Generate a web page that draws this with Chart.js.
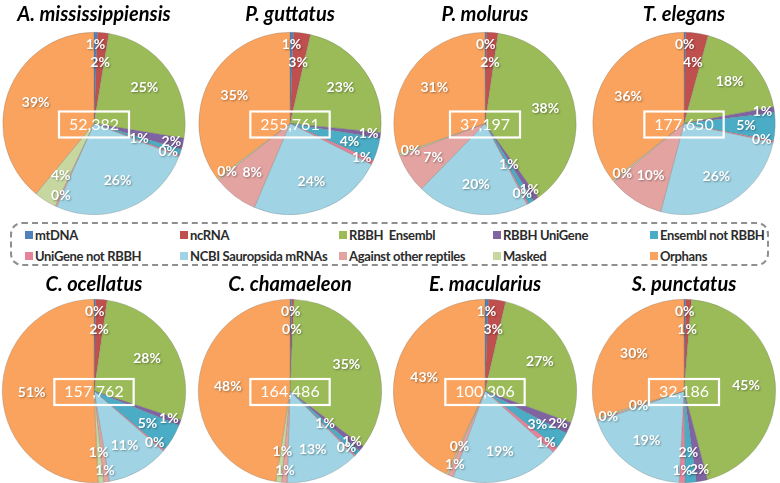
<!DOCTYPE html>
<html>
<head>
<meta charset="utf-8">
<script src="https://cdn.jsdelivr.net/npm/chart.js@4.4.1/dist/chart.umd.min.js"></script>
<style>
  html, body { margin: 0; padding: 0; background: #fff; }
  body { width: 780px; height: 483px; position: relative; overflow: hidden; font-family: Lato, "DejaVu Sans", sans-serif; }
  canvas { position: absolute; }
  #legend {
    position: absolute; left: 10px; top: 222px; width: 759px; height: 44px;
    box-sizing: border-box; border: 2px dashed #8f8f8f; border-radius: 12px;
  }
  .item { position: absolute; font-weight: bold; font-size: 13px; letter-spacing: -0.35px; color: #2b2b2b; white-space: pre; line-height: 16px; }
  .item i { display: inline-block; width: 8px; height: 8px; margin-right: 2px; vertical-align: 1px; }
</style>
</head>
<body>
<div id="legend"></div>

<script>
// percentage of transcripts per annotation class
const CATEGORIES = ["mtDNA", "ncRNA", "RBBH  Ensembl", "RBBH UniGene", "Ensembl not RBBH",
  "UniGene not RBBH", "NCBI Sauropsida mRNAs", "Against other reptiles", "Masked", "Orphans"];
const COLORS = ["#4f81bd", "#c0504d", "#9bbb59", "#8064a2", "#4bacc6",
  "#e6839a", "#a0d4e4", "#e3a3a1", "#c6d79f", "#f9a35e"];

const SPECIES = ["A. mississippiensis", "P. guttatus", "P. molurus", "T. elegans",
  "C. ocellatus", "C. chamaeleon", "E. macularius", "S. punctatus"];
const TOTALS = [52382, 255761, 37197, 177650, 157762, 164486, 100306, 32186];

const A_MISSISSIPPIENSIS = [0.6, 2, 25, 2, 1, 0.3, 25.8, 0.3, 4, 39];
const P_GUTTATUS = [0.6, 3, 23, 1, 4, 0.8, 24, 8, 0.3, 35.3];
const P_MOLURUS = [0.3, 2, 38, 1, 1, 0.3, 20, 7, 0.3, 30.6];
const T_ELEGANS = [0.3, 4, 18, 1, 5, 0.3, 26, 10, 0.3, 36];
const C_OCELLATUS = [0.3, 2, 28, 1, 5, 0.3, 11, 1, 1, 51];
const C_CHAMAELEON = [0.3, 0.4, 35, 1, 1, 0.3, 13, 1, 1, 48];
const E_MACULARIUS = [0.6, 3, 27, 2, 3, 1, 19, 1, 0.3, 43];
const S_PUNCTATUS = [0.3, 1, 45, 2, 2, 1, 19, 0.3, 0.3, 30];

const SERIES = [A_MISSISSIPPIENSIS, P_GUTTATUS, P_MOLURUS, T_ELEGANS,
  C_OCELLATUS, C_CHAMAELEON, E_MACULARIUS, S_PUNCTATUS];

// percent labels inside slices + boxed total in the middle
const sliceLabels = {
  id: "sliceLabels",
  afterDatasetsDraw(chart, args, opts) {
    const ctx = chart.ctx;
    const meta = chart.getDatasetMeta(0);
    const values = chart.data.datasets[0].data;
    const placed = [];
    ctx.save();
    ctx.font = "bold 14px Lato";
    ctx.textAlign = "center";
    ctx.textBaseline = "middle";
    ctx.fillStyle = "#fff";
    ctx.shadowColor = "rgba(0,0,0,0.35)";
    ctx.shadowBlur = 2;
    ctx.shadowOffsetX = 1;
    ctx.shadowOffsetY = 1;
    meta.data.forEach((arc, i) => {
      const v = values[i];
      const txt = Math.round(v) + "%";
      const w = ctx.measureText(txt).width;
      const mid = (arc.startAngle + arc.endAngle) / 2;
      const tries = v >= 3 ? [0.68] : [0.87, 0.67, 0.52, 0.77];
      let pos;
      for (const f of tries) {
        const x = arc.x + Math.cos(mid) * arc.outerRadius * f;
        const y = arc.y + Math.sin(mid) * arc.outerRadius * f;
        const cand = { x, y, w };
        if (!pos) pos = cand;
        const hit = placed.some(p => Math.abs(p.x - x) < (p.w + w) / 2 && Math.abs(p.y - y) < 14);
        if (!hit) { pos = cand; break; }
      }
      placed.push(pos);
      ctx.fillText(txt, pos.x, pos.y);
    });

    const c = meta.data[0];
    const label = opts.total.toLocaleString("en-US");
    ctx.shadowColor = "transparent";
    ctx.font = "16px Lato";
    const tw = ctx.measureText(label).width;
    ctx.fillText(label, c.x, c.y + 1);
    ctx.strokeStyle = "#fff";
    ctx.lineWidth = 2.2;
    ctx.strokeRect(c.x - tw / 2 - 10, c.y - 12, tw + 20, 26);
    ctx.restore();
  }
};

const COL_X = [94, 290, 485, 684];
const ROW_Y = [0, 272];

SPECIES.forEach((name, k) => {
  const row = Math.floor(k / 4), col = k % 4;
  const cv = document.createElement("canvas");
  const w = 190, h = row === 0 ? 215 : 211;
  cv.width = w; cv.height = h;
  cv.style.left = (COL_X[col] - w / 2) + "px";
  cv.style.top = ROW_Y[row] + "px";
  document.body.appendChild(cv);

  new Chart(cv, {
    type: "pie",
    data: {
      labels: CATEGORIES,
      datasets: [{
        data: SERIES[k],
        backgroundColor: COLORS,
        borderColor: "rgba(110,110,110,0.45)",
        borderWidth: 0.6
      }]
    },
    options: {
      responsive: false,
      animation: false,
      layout: { padding: 0 },
      plugins: {
        legend: { display: false },
        tooltip: { enabled: false },
        title: {
          display: true,
          text: name,
          color: "#000",
          font: { family: "Lato", size: 20, weight: "bold", style: "italic" },
          padding: row === 0 ? { top: 3, bottom: 5 } : { top: 1, bottom: 2 }
        },
        sliceLabels: { total: TOTALS[k] }
      }
    },
    plugins: [sliceLabels]
  });
});

// legend: 5 columns x 2 rows inside the dashed box
const LEG_X = [23, 178, 337, 491, 648];
const LEG_Y = [225, 246];
const legend = document.getElementById("legend");
CATEGORIES.forEach((cat, i) => {
  const el = document.createElement("div");
  el.className = "item";
  el.style.left = (LEG_X[i % 5] - 10) + "px";
  el.style.top = (LEG_Y[Math.floor(i / 5)] - 222) + "px";
  el.innerHTML = '<i style="background:' + COLORS[i] + '"></i>' + cat;
  legend.appendChild(el);
});
</script>
</body>
</html>
